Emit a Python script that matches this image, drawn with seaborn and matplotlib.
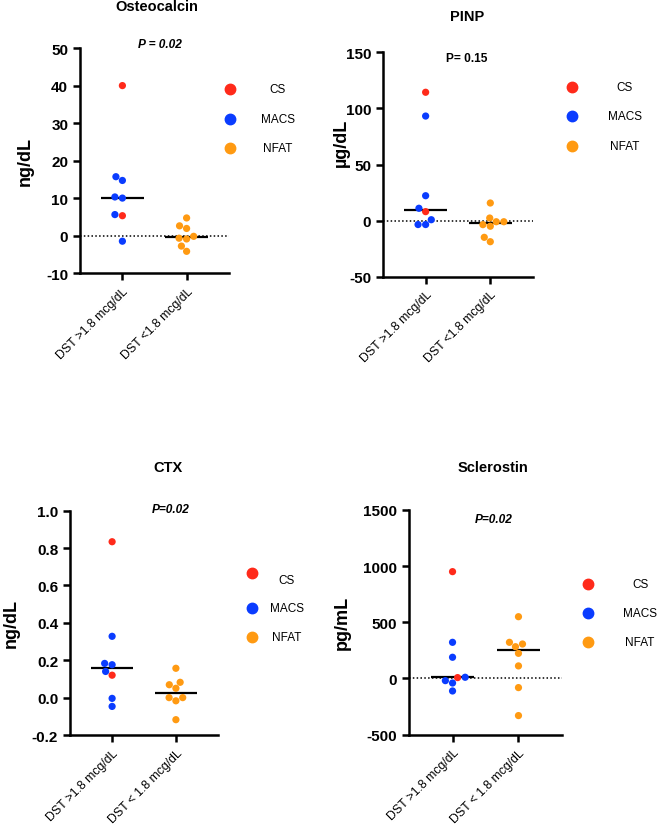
import matplotlib
matplotlib.use("Agg")
import matplotlib.pyplot as plt
import seaborn as sns
import pandas as pd
import numpy as np

sns.set_style("ticks")
plt.rcParams["font.family"] = ["Liberation Sans", "DejaVu Sans"]
plt.rcParams["axes.unicode_minus"] = False
plt.rcParams["text.color"] = "black"
plt.rcParams["axes.labelcolor"] = "black"
plt.rcParams["axes.edgecolor"] = "black"
plt.rcParams["xtick.color"] = "black"
plt.rcParams["ytick.color"] = "black"

# ---- data ----
types_hi = ["CS", "CS", "MACS", "MACS", "MACS", "MACS", "MACS", "MACS"]
types_lo = ["NFAT"] * 8

osteo_hi = [40.0, 5.3, 14.7, 15.7, 10.0, 10.3, 5.6, -1.5]
osteo_lo = [4.7, 1.9, 2.6, -0.9, -0.2, -0.7, -4.2, -2.8]

pinp_hi = [114.4, 8.0, 93.2, 22.2, 11.0, 0.8, -3.5, -3.5]
pinp_lo = [15.7, 2.3, -5.0, -1.0, -3.6, -1.0, -18.8, -14.9]

ctx_hi = [0.834, 0.12, 0.328, 0.176, 0.183, 0.14, -0.004, -0.047]
ctx_lo = [0.157, 0.082, 0.05, 0.069, -0.017, 0.0, 0.0, -0.118]

scl_hi = [951, 8, 322, 189, 11, -40, -19, -111]
scl_lo = [550, 283, 322, 307, 224, 112, -81, -330]

groups_a = ["DST >1.8 mcg/dL", "DST <1.8 mcg/dL"]
groups_b = ["DST >1.8 mcg/dL", "DST < 1.8 mcg/dL"]

titles = ["Osteocalcin", "PINP", "CTX", "Sclerostin"]
ylabels = ["ng/dL", "\u00b5g/dL", "ng/dL", "pg/mL"]
pvals = ["P = 0.02", "P= 0.15", "P=0.02", "P=0.02"]
p_italic = [True, False, True, True]
yticks = [
    [-10, 0, 10, 20, 30, 40, 50],
    [-50, 0, 50, 100, 150],
    [-0.2, 0.0, 0.2, 0.4, 0.6, 0.8, 1.0],
    [-500, 0, 500, 1000, 1500],
]
zero_line = [True, True, False, True]

hue_order = ["CS", "MACS", "NFAT"]
palette = {"CS": "#ff2a1a", "MACS": "#0a3cff", "NFAT": "#ff9a12"}

panels = [
    (osteo_hi, osteo_lo, groups_a),
    (pinp_hi, pinp_lo, groups_a),
    (ctx_hi, ctx_lo, groups_b),
    (scl_hi, scl_lo, groups_b),
]

# ---- layout ----
fig = plt.figure(figsize=(6.58, 8.28), dpi=100)
axes_pos = [
    [0.1216, 0.669, 0.2264, 0.2717],
    [0.582, 0.6646, 0.228, 0.271],
    [0.1064, 0.1111, 0.2249, 0.2709],
    [0.6216, 0.1115, 0.2325, 0.2714],
]
title_xy = [(0.517, 1.187), (0.56, 1.162), (0.662, 1.195), (0.549, 1.19)]
p_xy = [(0.537, 1.018), (0.56, 0.975), (0.68, 1.008), (0.556, 0.96)]
ylab_x = [-0.31, -0.22, -0.34, -0.38]
ylab_y = [0.5, 0.6, 0.5, 0.5]
leg_marker_x = [1.007, 1.26, 1.23, 1.17]
leg_text_x = [1.329, 1.613, 1.466, 1.51]
leg_marker_y = [[0.818, 0.684, 0.556], [0.844, 0.715, 0.584],
                [0.724, 0.566, 0.436], [0.671, 0.542, 0.413]]
leg_text_y = [[0.818, 0.684, 0.556], [0.844, 0.715, 0.584],
              [0.691, 0.566, 0.436], [0.671, 0.542, 0.413]]

for i, (hi, lo, grp) in enumerate(panels):
    ax = fig.add_axes(axes_pos[i])
    df = pd.DataFrame({
        "group": [grp[0]] * len(hi) + [grp[1]] * len(lo),
        "value": hi + lo,
        "type": types_hi + types_lo,
    })

    if zero_line[i]:
        ax.axhline(0, color="black", ls=(0, (1, 1.5)), lw=1.1, zorder=0)

    sns.swarmplot(data=df, x="group", y="value", hue="type", order=grp,
                  hue_order=hue_order, palette=palette, size=5.2,
                  linewidth=0, legend=False, ax=ax, zorder=3)

    # median bars
    for k, vals in enumerate([hi, lo]):
        ax.hlines(np.median(vals), k - 0.33, k + 0.33, color="black",
                  lw=1.6, zorder=2)

    ax.set_xlim(-0.66, 1.66)
    ax.set_ylim(yticks[i][0], yticks[i][-1])
    ax.set_yticks(yticks[i])
    if i == 2:
        ax.set_yticklabels([f"{t:.1f}" for t in yticks[i]])
    ax.set_xlabel("")
    ax.set_ylabel(ylabels[i], fontsize=13, fontweight="bold")
    ax.yaxis.set_label_coords(ylab_x[i], ylab_y[i])

    sns.despine(ax=ax)
    for s in ["left", "bottom"]:
        ax.spines[s].set_linewidth(1.8)
    ax.tick_params(axis="both", width=1.8, length=5, color="black")
    for lab in ax.get_yticklabels():
        lab.set_fontsize(11)
        lab.set_fontweight("bold")
    ax.set_xticks([0, 1])
    ax.set_xticklabels(grp, rotation=45, ha="right",
                       rotation_mode="anchor", fontsize=8.8)

    ax.text(title_xy[i][0], title_xy[i][1], titles[i], transform=ax.transAxes,
            ha="center", va="center", fontsize=10.5, fontweight="bold")
    ax.text(p_xy[i][0], p_xy[i][1], pvals[i], transform=ax.transAxes,
            ha="center", va="center", fontsize=8.6, fontweight="bold",
            fontstyle="italic" if p_italic[i] else "normal")

    # legend
    for j, name in enumerate(hue_order):
        ax.plot([leg_marker_x[i]], [leg_marker_y[i][j]], "o",
                color=palette[name], ms=7.5, transform=ax.transAxes,
                clip_on=False)
        ax.text(leg_text_x[i], leg_text_y[i][j], name, transform=ax.transAxes,
                ha="center", va="center", fontsize=8.5)

fig.savefig("out.png", dpi=100)
